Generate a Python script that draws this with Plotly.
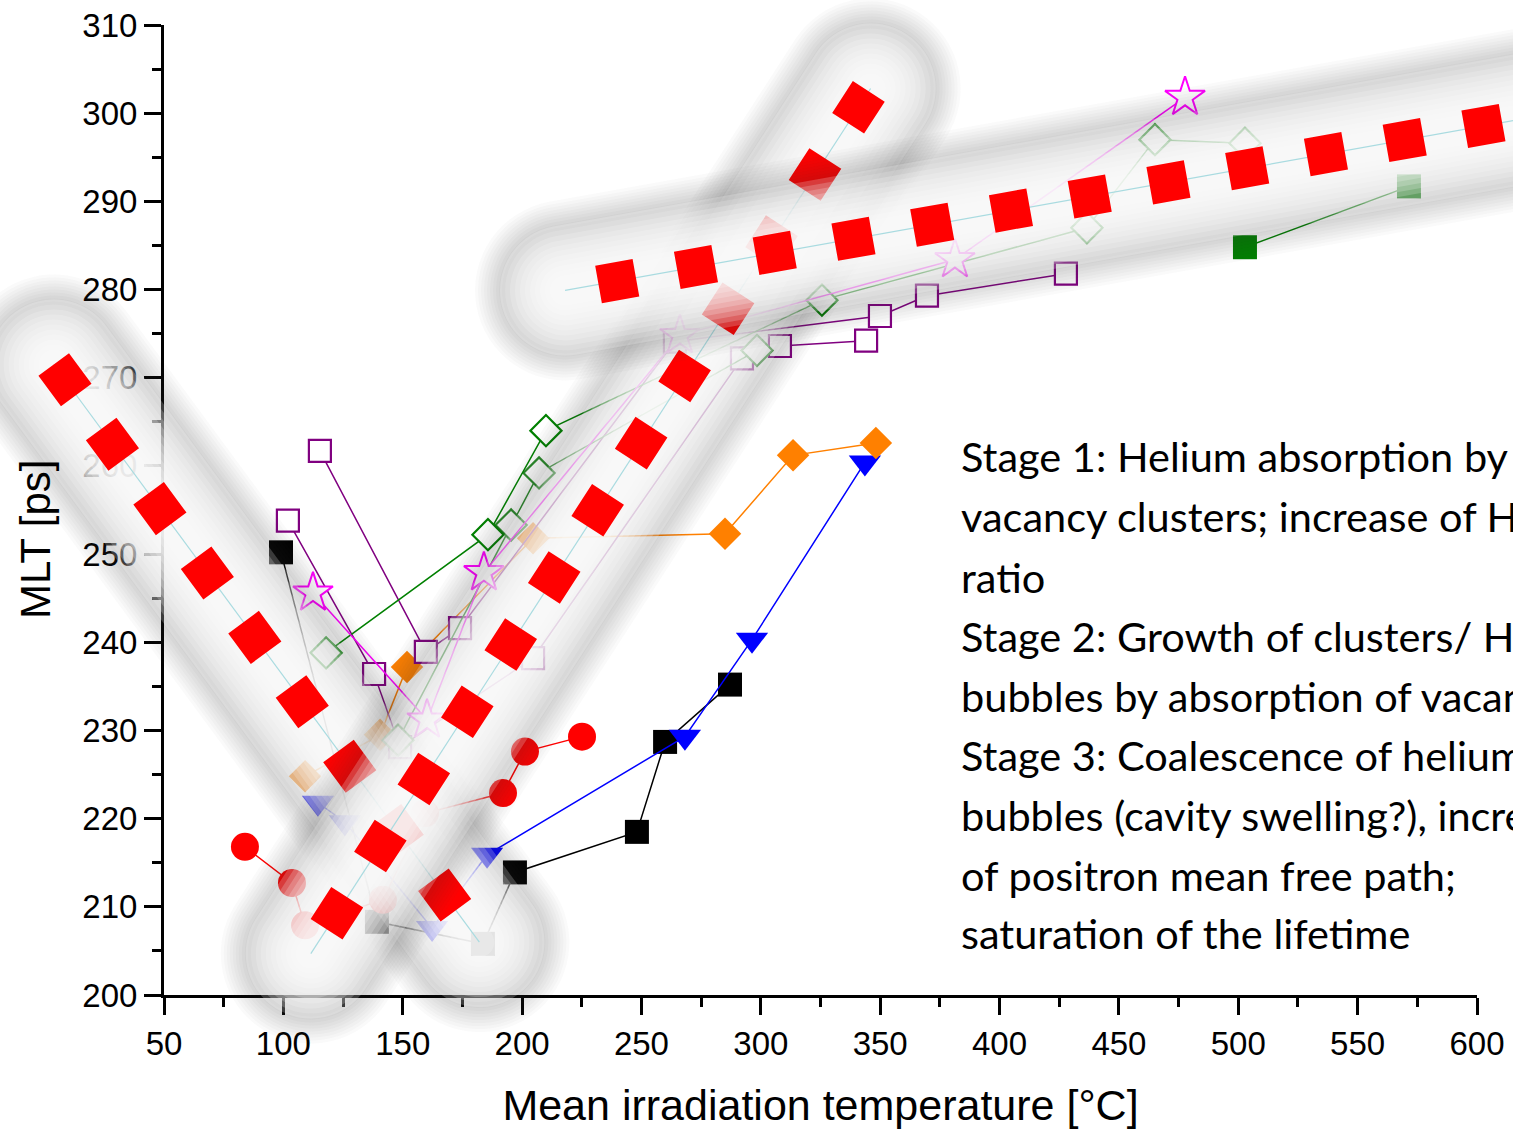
import plotly.graph_objects as go

# ---------------- data ----------------
black_x = [99.0, 139.2, 183.6, 197.0, 248.1, 259.9, 287.1]
black_y = [250.2, 208.3, 205.8, 213.9, 218.5, 228.7, 235.2]

blue_x = [114.5, 125.8, 162.3, 185.3, 268.2, 296.3, 343.6]
blue_y = [221.8, 219.6, 207.6, 215.9, 229.3, 240.3, 260.4]

red_x = [83.9, 103.6, 109.1, 141.7, 159.3, 192.0, 201.2, 225.1]
red_y = [216.8, 212.7, 207.9, 210.8, 220.6, 222.9, 227.6, 229.3]

orange_x = [109.1, 140.5, 151.8, 204.6, 285.0, 313.5, 348.2]
orange_y = [224.8, 229.5, 237.2, 251.8, 252.3, 261.2, 262.6]

purple_a_x = [115.3, 159.7, 174.0, 264.0, 349.9, 369.6, 427.8]
purple_a_y = [261.7, 238.9, 241.6, 274.1, 277.0, 279.3, 281.8]

purple_b_x = [101.9, 138.0, 148.9, 204.6, 292.1, 308.0, 344.1]
purple_b_y = [253.8, 236.4, 228.1, 238.2, 272.2, 273.6, 274.2]

green_a_x = [117.9, 185.7, 210.0, 325.6, 436.6, 465.1, 502.8]
green_a_y = [238.8, 252.2, 264.0, 278.8, 287.0, 297.0, 296.6]

green_b_x = [148.0, 195.4, 207.1, 298.4]
green_b_y = [228.9, 253.3, 259.2, 273.1]

magenta_x = [112.4, 160.2, 184.0, 266.1, 381.3, 477.7]
magenta_y = [245.6, 231.2, 247.9, 274.8, 283.4, 301.8]

dkgreen_x = [502.8, 571.5]
dkgreen_y = [284.8, 291.7]

# stage guide lines (data units)
stage1_x = [3.8, 182.1]
stage1_y = [271.5, 206.0]
stage2_x = [111.5, 346.0]
stage2_y = [204.7, 302.8]
stage3_x = [218.0, 626.4]
stage3_y = [279.9, 299.7]

stage_text = [
    "Stage 1: Helium absorption by",
    "vacancy clusters; increase of He/V",
    "ratio",
    "Stage 2: Growth of clusters/ He",
    "bubbles by absorption of vacancies",
    "Stage 3: Coalescence of helium",
    "bubbles (cavity swelling?), increase",
    "of positron mean free path;",
    "saturation of the lifetime",
]

x_ticks = [50, 100, 150, 200, 250, 300, 350, 400, 450, 500, 550, 600]
y_ticks = [200, 210, 220, 230, 240, 250, 260, 270, 280, 290, 300, 310]

# ---------------- layout geometry ----------------
W, H = 1513, 1130
X0, X1 = 50, 600
Y0, Y1 = 200, 310
LPX, RPX, TPX, BPX = 164, 1477, 25, 995
sx = (X1 - X0) / (RPX - LPX)
sy = (Y1 - Y0) / (BPX - TPX)
x2range = [X0 - LPX * sx, X1 + (W - RPX) * sx]
y2range = [Y0 - (H - BPX) * sy, Y1 + TPX * sy]

fig = go.Figure()


def series(x, y, color, symbol, size, fill=None, lw=1.5, mlw=0):
    fig.add_trace(go.Scatter(
        x=x, y=y, mode="lines+markers",
        line=dict(color=color, width=lw),
        marker=dict(symbol=symbol, size=size,
                    color=fill if fill else color,
                    line=dict(color=color, width=mlw)),
        cliponaxis=False, showlegend=False, xaxis="x", yaxis="y"))


series(black_x, black_y, "#000000", "square", 24)
series(blue_x, blue_y, "#0000ff", "triangle-down", 28)
series(red_x, red_y, "#ff0000", "circle", 28)
series(orange_x, orange_y, "#ff8000", "diamond", 25)
series(purple_a_x, purple_a_y, "#800080", "square", 22, fill="#ffffff", mlw=2.2)
series(purple_b_x, purple_b_y, "#800080", "square", 22, fill="#ffffff", mlw=2.2)
series(green_b_x, green_b_y, "#2a8a2a", "diamond", 24, fill="#ffffff", mlw=2.2)
series(green_a_x, green_a_y, "#008000", "diamond", 24, fill="#ffffff", mlw=2.2)
series(magenta_x, magenta_y, "#ff00ff", "star", 30, fill="#ffffff", mlw=2)
series(dkgreen_x, dkgreen_y, "#008000", "square", 24)


def stage_line(xs, ys, dash):
    # soft grey shadow ring
    for w in range(180, 115, -6):
        fig.add_trace(go.Scatter(x=xs, y=ys, mode="lines",
                                 line=dict(color="rgba(60,60,60,0.028)", width=w),
                                 showlegend=False, hoverinfo="skip",
                                 xaxis="x2", yaxis="y2"))
    # white glow core
    for w in range(130, 29, -10):
        fig.add_trace(go.Scatter(x=xs, y=ys, mode="lines",
                                 line=dict(color="rgba(255,255,255,0.2)", width=w),
                                 showlegend=False, hoverinfo="skip",
                                 xaxis="x2", yaxis="y2"))
    fig.add_trace(go.Scatter(x=xs, y=ys, mode="lines",
                             line=dict(color="#a9dbe0", width=1.2),
                             showlegend=False, hoverinfo="skip",
                             xaxis="x2", yaxis="y2"))
    fig.add_trace(go.Scatter(x=xs, y=ys, mode="lines",
                             line=dict(color="#ff0000", width=38, dash=dash),
                             showlegend=False, hoverinfo="skip",
                             xaxis="x2", yaxis="y2"))


stage_line(stage1_x, stage1_y, "38px,42px")
stage_line(stage2_x, stage2_y, "0px,29px,38px,13px")
stage_line(stage3_x, stage3_y, "0px,34px,38px,8px")

axis_font = dict(family="Liberation Sans, Arial, sans-serif", size=33, color="#000000")

fig.update_layout(
    width=W, height=H, autosize=False,
    margin=dict(l=0, r=0, t=0, b=0, pad=0, autoexpand=False),
    paper_bgcolor="#ffffff", plot_bgcolor="rgba(0,0,0,0)",
    showlegend=False,
    xaxis=dict(domain=[LPX / W, RPX / W], range=[X0, X1], anchor="y",
               automargin=False,
               tickmode="array", tickvals=x_ticks, ticktext=[str(v) for v in x_ticks],
               ticks="outside", ticklen=17, tickwidth=3, tickcolor="#000000",
               showline=True, linewidth=3, linecolor="#000000",
               showgrid=False, zeroline=False, tickfont=axis_font,
               minor=dict(dtick=25, tick0=50, ticks="outside", ticklen=9,
                          tickwidth=3, tickcolor="#000000", showgrid=False),
               title=dict(text="Mean irradiation temperature [°C]",
                          font=dict(family="Liberation Sans, Arial, sans-serif",
                                    size=43, color="#000000"),
                          standoff=30)),
    yaxis=dict(domain=[1 - BPX / H, 1 - TPX / H], range=[Y0, Y1], anchor="x",
               automargin=False,
               tickmode="array", tickvals=y_ticks, ticktext=[str(v) for v in y_ticks],
               ticks="outside", ticklen=17, tickwidth=3, tickcolor="#000000",
               showline=True, linewidth=3, linecolor="#000000",
               showgrid=False, zeroline=False, tickfont=axis_font,
               minor=dict(dtick=5, tick0=200, ticks="outside", ticklen=9,
                          tickwidth=3, tickcolor="#000000", showgrid=False)),
    xaxis2=dict(domain=[0, 1], range=x2range, anchor="y2", visible=False,
                automargin=False, showgrid=False, zeroline=False, fixedrange=True),
    yaxis2=dict(domain=[0, 1], range=y2range, anchor="x2", visible=False,
                automargin=False, showgrid=False, zeroline=False, fixedrange=True),
)

fig.add_annotation(text="MLT [ps]", textangle=-90, xref="paper", yref="paper",
                   x=35 / W, y=1 - 539 / H, xanchor="center", yanchor="middle",
                   showarrow=False,
                   font=dict(family="Liberation Sans, Arial, sans-serif", size=42,
                             color="#000000"))

line_y = [456, 516, 577, 636, 696, 755, 815, 875, 933]
for t, py in zip(stage_text, line_y):
    fig.add_annotation(text=t, xref="paper", yref="paper", x=959 / W, y=1 - py / H,
                       xanchor="left", yanchor="middle", showarrow=False,
                       font=dict(family="Lato, Carlito, sans-serif", size=41.5,
                                 color="#000000"))

post = (
    "document.body.style.margin='0';"
    "document.body.style.overflow='hidden';"
    "document.querySelectorAll('path.js-line').forEach(function(p){"
    "var o=parseFloat(p.style.strokeOpacity||'1');"
    "if(o<1){p.style.strokeLinecap='round';}});"
)
fig.write_html("out.html", post_script=post, config={"displayModeBar": False})
